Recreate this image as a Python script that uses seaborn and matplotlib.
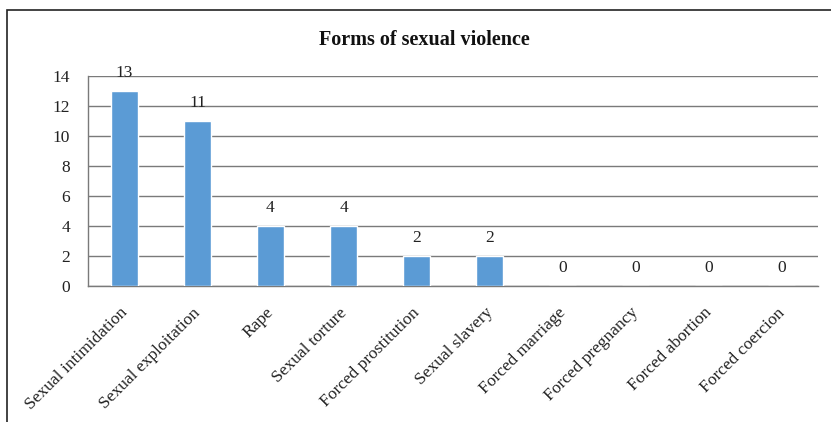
import matplotlib
matplotlib.use("Agg")
import matplotlib.pyplot as plt
import matplotlib.transforms as mtransforms
import seaborn as sns
import pandas as pd
from matplotlib.patches import Rectangle

# -------- Data --------
categories = ["Sexual intimidation", "Sexual exploitation", "Rape", "Sexual torture",
              "Forced prostitution", "Sexual slavery", "Forced marriage",
              "Forced pregnancy", "Forced abortion", "Forced coercion"]
counts = [13, 11, 4, 4, 2, 2, 0, 0, 0, 0]
yticks = [0, 2, 4, 6, 8, 10, 12, 14]
# ----------------------

sns.set_theme(style="white")
plt.rcParams["font.family"] = ["Liberation Serif", "DejaVu Serif"]

df = pd.DataFrame({"form": categories, "count": counts})

fig = plt.figure(figsize=(8.31, 4.22), dpi=100)
ax = fig.add_axes([88 / 831, 1 - 286 / 422, 730 / 831, 210 / 422])

sns.barplot(data=df, x="form", y="count", color="#5B9BD5", width=0.38,
            saturation=1, ax=ax, zorder=3)

ax.set_ylim(0, 14)
ax.set_xlim(-0.5, len(categories) - 0.5)
ax.set_yticks(yticks)
ax.set_yticklabels([str(v) for v in yticks], fontsize=12.5, color="#222222")
ax.yaxis.grid(True, color="#7a7a7a", linewidth=1.0, zorder=0)
ax.set_axisbelow(True)

# x ticks sit on category boundaries, labels at category centres
ax.set_xticks([i - 0.5 for i in range(len(categories) + 1)], minor=True)
ax.tick_params(axis="x", which="minor", length=5, width=1.0, color="#555555", direction="out")
ax.set_xticks(range(len(categories)))
ax.set_xticklabels(categories, rotation=45, ha="right", va="top",
                   rotation_mode="anchor", fontsize=12.5, color="#222222")
ax.tick_params(axis="x", which="major", length=0, pad=12)
ax.tick_params(axis="y", length=0, pad=13)
ax.set_xlabel("")
ax.set_ylabel("")

# nudge the slanted labels a little left, like the original
shift = mtransforms.ScaledTranslation(-5 / 100, -2 / 100, fig.dpi_scale_trans)
for lbl in ax.get_xticklabels():
    lbl.set_transform(lbl.get_transform() + shift)

for s in ["top", "right"]:
    ax.spines[s].set_visible(False)
for s in ["left", "bottom"]:
    ax.spines[s].set_color("#7a7a7a")
    ax.spines[s].set_linewidth(1.0)

for i, v in enumerate(counts):
    ax.annotate(str(v), (i, v), xytext=(0, 7), textcoords="offset points",
                ha="center", va="bottom", fontsize=12.5, color="#222222")

fig.text(424 / 831, 1 - 40 / 422, "Forms of sexual violence",
         ha="center", va="center", fontsize=14.5, fontweight="bold", color="#111111")

# outer chart frame
fig.patches.append(Rectangle((7 / 831, -0.05), 1.1, 1 - 10 / 422 + 0.05,
                             transform=fig.transFigure, fill=False,
                             edgecolor="#222222", linewidth=1.2))

fig.savefig("out.png", dpi=100)
